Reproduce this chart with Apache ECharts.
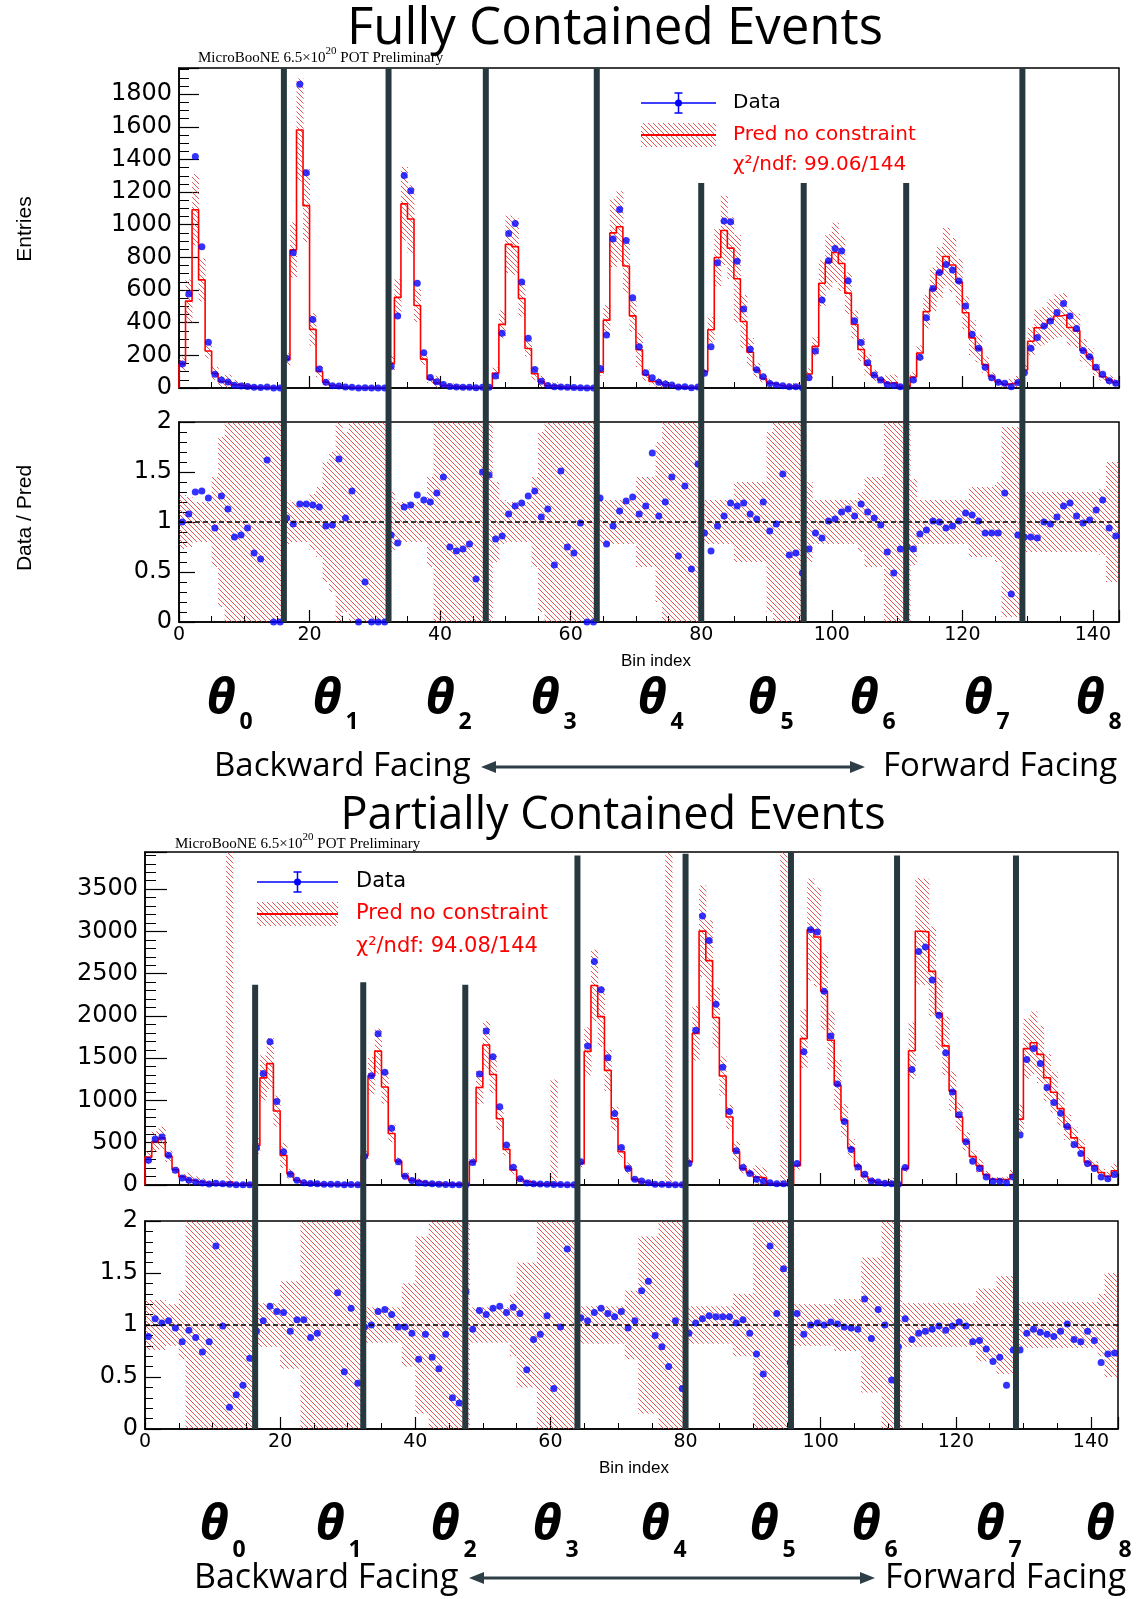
<!DOCTYPE html>
<html><head><meta charset="utf-8">
<script src="https://cdn.jsdelivr.net/npm/echarts@6/dist/echarts.min.js"></script>
<style>html,body{margin:0;padding:0;background:#fff}#c{width:1136px;height:1599px}</style>
</head><body><div id="c"></div>
<script>
// ---------------- DATA ----------------
const binCount = 144;
const xTickLabels = [0, 20, 40, 60, 80, 100, 120, 140];
const thetaLabels = ['0','1','2','3','4','5','6','7','8'];

// Fully contained
const fcData = [
 147,575,1418,865,280,84,49,37,17,12,9,5,3,6,0,0,
 182,829,1861,1318,420,116,35,14,13,6,4,0,1,0,0,0,
 131,441,1302,1208,641,216,65,39,22,9,6,5,4,2,5,4,
 73,335,947,1008,649,304,114,41,16,8,6,4,3,2,0,0,
 120,325,912,1094,904,553,253,94,63,35,24,18,6,8,2,6,
 90,253,767,1023,1018,776,484,237,112,69,27,18,14,8,8,2,
 63,227,539,780,855,839,657,412,278,155,80,49,22,16,8,5,
 49,188,431,610,708,757,723,655,502,329,243,127,63,35,29,8,
 33,94,243,310,380,410,463,518,441,365,229,192,127,84,45,29];
const fcPred = [
 147,532,1092,662,227,89,40,33,20,14,10,7,5,4,3,2,
 175,846,1580,1117,359,101,36,15,8,6,3,3,2.5,2,1.5,1,
 151,555,1128,1035,505,177,54,30,15,12,9,7,5,4,3,2.5,
 90,390,880,866,548,242,87,39,14,14,4,5,4,2,1.5,1,
 97,416,950,988,747,442,234,81,40,33,20,12,9,6,4,4,
 101,357,799,965,857,669,407,219,109,58,30,18,10,12,12,4,
 86,255,642,772,830,763,581,389,236,141,77,50,31,33,11,7,
 67,214,468,604,708,805,753,649,461,307,241,143,71,39,22,29,
 38,110,286,369,380,418,441,447,371,350,231,188,113,69,48,34];
const fcRatio = [
 1.00,1.08,1.30,1.31,1.24,0.94,1.26,1.13,0.85,0.87,0.94,0.69,0.63,1.62,0,0,
 1.04,0.98,1.18,1.18,1.17,1.15,0.96,0.97,1.63,1.04,1.31,0,0.40,0,0,0,
 0.87,0.79,1.15,1.17,1.27,1.22,1.20,1.29,1.45,0.75,0.71,0.73,0.78,0.43,1.50,1.47,
 0.83,0.86,1.08,1.16,1.19,1.26,1.31,1.05,1.13,0.57,1.51,0.75,0.69,0.99,0,0,
 1.24,0.78,0.96,1.11,1.21,1.25,1.08,1.16,1.69,1.06,1.20,1.45,0.66,1.36,0.53,1.58,
 0.89,0.71,0.96,1.06,1.19,1.16,1.19,1.08,1.03,1.20,0.91,0.98,1.48,0.67,0.69,0.49,
 0.73,0.89,0.84,1.01,1.03,1.10,1.13,1.06,1.18,1.10,1.04,0.97,0.70,0.49,0.73,0.75,
 0.73,0.88,0.92,1.01,1.00,0.94,0.96,1.01,1.09,1.07,1.01,0.89,0.89,0.89,1.29,0.28,
 0.87,0.85,0.85,0.84,1.00,0.98,1.05,1.16,1.19,1.06,0.99,1.02,1.12,1.22,0.94,0.86];
// relative prediction uncertainty (half width of the ratio band)
const fcErr = [
 0.27,0.25,0.2,0.2,0.2,0.45,0.85,1.5,1.5,1.5,1.5,1.5,1.5,1.5,1.5,1.5,
 0.22,0.2,0.2,0.2,0.28,0.35,0.6,0.7,1.2,0.9,1.5,1.5,1.5,1.5,1.5,1.5,
 0.3,0.2,0.2,0.2,0.2,0.2,0.45,1.5,1.5,1.5,1.5,1.5,1.5,1.5,1.5,1.5,
 0.4,0.22,0.2,0.2,0.2,0.2,0.45,0.9,1.5,1.5,1.5,1.5,1.5,1.5,1.5,1.5,
 0.22,0.22,0.22,0.22,0.22,0.22,0.45,0.45,0.45,0.8,1.5,1.5,1.5,1.5,1.5,1.5,
 0.22,0.22,0.22,0.22,0.22,0.4,0.4,0.4,0.4,0.4,0.9,1.0,1.5,1.5,1.5,1.5,
 0.4,0.22,0.22,0.22,0.22,0.22,0.22,0.22,0.3,0.45,0.45,0.45,1.5,1.5,1.5,1.5,
 0.43,0.22,0.22,0.22,0.22,0.22,0.22,0.22,0.22,0.35,0.35,0.35,0.35,0.4,0.95,0.95,
 0.95,0.3,0.3,0.3,0.3,0.3,0.3,0.3,0.3,0.3,0.3,0.3,0.3,0.33,0.6,0.6];
const fcChi = 'χ²/ndf: 99.06/144';
const fcSepX = [16.07, 32.1, 47.0, 64.0, 80.0, 95.7, 111.4, 129.2];
const fcSepTop = [1960, 1960, 1960, 1960, 1255, 1255, 1255, 1960];

// Partially contained
const pcData = [
 294,544,568,353,175,83,56,36,24,12,20,16,8,4,4,4,
 441,1318,1695,989,393,127,56,28,18,14,10,8,9,3,6,2,
 341,1294,1790,1334,671,274,103,52,28,20,14,10,7,4,3,3,
 266,1314,1822,1517,925,472,210,75,24,16,12,10,5,5,4,3,
 274,1644,2644,2311,1505,846,445,195,67,48,28,8,8,4,4,2,
 254,1830,3184,2894,2140,1393,869,405,206,135,67,44,28,16,16,8,
 254,1576,3021,2993,2291,1763,1195,750,421,214,127,48,36,20,16,8,
 206,1366,2763,2815,2426,2009,1564,1100,830,512,282,195,95,44,44,28,
 95,592,1485,1616,1437,1155,977,850,691,480,373,254,195,95,75,123];
const pcPred = [
 330,513,557,340,180,99,59,41,32,14,11,16,38,12,10,6,
 469,1267,1436,875,351,135,53,27,20,15,11,9,7,6,5,4,
 348,1294,1584,1160,610,280,105,57,42,22,20,17,8,13,12,2.3,
 277,1153,1656,1308,784,421,179,68,42,19,13,9,13,5,2.3,3,
 256,1581,2361,1992,1356,783,394,201,64,36,20,9,10,7,4,5,
 276,1794,3004,2655,1981,1290,805,397,196,147,93,83,16,14,10,13,
 229,1732,3021,2934,2291,1712,1183,765,434,223,102,55,31,20,34,10,
 194,1588,3003,2995,2527,2029,1646,1111,806,517,336,229,123,68,64,67,
 125,779,1614,1683,1545,1269,1098,904,684,558,444,270,229,148,104,168];
const pcRatio = [
 0.89,1.06,1.02,1.04,0.97,0.84,0.95,0.88,0.74,0.84,1.76,0.99,0.21,0.33,0.42,0.68,
 0.94,1.04,1.18,1.13,1.12,0.94,1.05,1.05,0.88,0.92,null,null,1.31,0.55,1.16,0.44,
 0.98,1.00,1.13,1.15,1.10,0.98,0.98,0.92,0.67,0.91,0.69,0.58,0.91,0.30,0.25,1.32,
 0.96,1.14,1.10,1.16,1.18,1.12,1.17,1.11,0.57,0.86,0.91,1.09,0.39,0.98,1.73,null,
 1.07,1.04,1.12,1.16,1.11,1.08,1.13,0.97,1.04,1.33,1.42,0.90,0.79,0.60,1.04,0.39,
 0.92,1.02,1.06,1.09,1.08,1.08,1.08,1.02,1.05,0.92,0.72,0.53,1.76,1.11,1.54,0.64,
 1.11,0.91,1.00,1.02,1.00,1.03,1.01,0.98,0.97,0.96,1.25,0.87,1.15,1.00,0.47,0.79,
 1.06,0.86,0.92,0.94,0.96,0.99,0.95,0.99,1.03,0.99,0.84,0.85,0.77,0.65,0.69,0.42,
 0.76,0.76,0.92,0.96,0.93,0.91,0.89,0.94,1.01,0.86,0.84,0.94,0.85,0.64,0.72,0.73];
const pcErr = [
 0.24,0.24,0.24,0.2,0.2,0.33,1.5,1.5,1.5,1.5,1.5,1.5,110,1.5,1.5,1.5,
 0.21,0.21,0.21,0.21,0.42,0.42,0.42,1.5,1.5,1.5,1.5,1.5,1.5,1.5,1.5,1.5,
 0.17,0.17,0.17,0.17,0.17,0.17,0.4,0.4,0.85,0.85,1.5,1.5,1.5,1.5,1.5,1.5,
 0.17,0.17,0.17,0.17,0.17,0.17,0.3,0.6,0.6,0.6,1.5,1.5,95,1.5,1.5,1.5,
 0.18,0.18,0.18,0.18,0.18,0.18,0.18,0.33,0.33,0.85,0.85,0.85,1.5,700,1.5,1.5,
 0.18,0.18,0.18,0.18,0.18,0.18,0.18,0.3,0.3,0.3,1.5,1.5,1.5,1.5,500,1.5,
 0.2,0.2,0.2,0.2,0.2,0.2,0.25,0.25,0.25,0.25,0.65,0.65,0.65,1.5,1.5,1.5,
 0.21,0.21,0.21,0.21,0.21,0.21,0.21,0.21,0.21,0.21,0.21,0.35,0.35,0.35,0.47,0.47,
 0.47,0.22,0.22,0.22,0.22,0.22,0.22,0.22,0.22,0.22,0.22,0.22,0.22,0.3,0.5,0.5];
const pcChi = 'χ²/ndf: 94.08/144';
const pcSepX = [16.3, 32.3, 47.4, 64.0, 80.0, 95.6, 111.3, 128.9];
const pcSepTop = [2370, 2400, 2370, 3900, 3920, 3940, 3900, 3900];

// ---------------- BUILD ----------------
const FC_YMAX = 1960, PC_YMAX = 3940;
const bins = Array.from({length: binCount}, (_, i) => i);

function makeHatch() {
  const T = 5, c = document.createElement('canvas');
  c.width = T; c.height = T;
  const g = c.getContext('2d');
  g.strokeStyle = 'rgba(222,48,48,0.8)'; g.lineWidth = 1;
  g.beginPath();
  for (let k = -1; k <= 1; k++) { g.moveTo(k * T, 0); g.lineTo(k * T + T, T); }
  g.stroke();
  return c;
}
const HATCH = {image: makeHatch(), repeat: 'repeat'};

const mainBand = (pred, err, ymax) => bins.map(i => [i, Math.max(0, pred[i] * (1 - err[i])), Math.min(ymax, pred[i] * (1 + err[i]))]);
const ratioBand = err => bins.map(i => [i, Math.max(0, 1 - err[i]), Math.min(2, 1 + err[i])]);
const stepData = pred => [[0, 0]].concat(bins.map(i => [i, pred[i]]), [[binCount, pred[binCount - 1]]]);
const pts = arr => bins.filter(i => arr[i] !== null).map(i => [i + 0.5, arr[i]]);

function bandSeries(gi, band) {
  return {
    type: 'custom', xAxisIndex: gi, yAxisIndex: gi, data: band, silent: true, z: 1,
    encode: {x: 0, y: [1, 2]},
    renderItem(params, api) {
      const i = api.value(0), lo = api.value(1), hi = api.value(2);
      if (!(hi > lo)) return;
      const a = api.coord([i, hi]), b = api.coord([i + 1, lo]);
      return {type: 'rect', shape: {x: a[0], y: a[1], width: b[0] - a[0] + 0.5, height: b[1] - a[1]},
              style: {fill: HATCH, stroke: null}};
    }
  };
}
function stepSeries(gi, pred) {
  return {type: 'line', xAxisIndex: gi, yAxisIndex: gi, step: 'end', data: stepData(pred),
          symbol: 'none', showSymbol: false, z: 3, silent: true,
          lineStyle: {color: '#ff0000', width: 1.6}};
}
function dotSeries(gi, arr, withLine) {
  const s = {type: 'scatter', xAxisIndex: gi, yAxisIndex: gi, data: pts(arr), symbol: 'circle',
             symbolSize: 7, itemStyle: {color: '#0000ff'}, z: 4, clip: false, silent: true};
  if (withLine) s.markLine = {silent: true, symbol: 'none', label: {show: false},
      lineStyle: {color: '#000', type: [5, 3], width: 1.5}, data: [{yAxis: 1}], animation: false};
  return s;
}
function xAx(gi, labels) {
  return {type: 'value', gridIndex: gi, min: 0, max: binCount, interval: 20,
    axisLine: {show: true, lineStyle: {color: '#000', width: 1.5}},
    axisTick: {show: true, inside: true, length: 12, lineStyle: {color: '#000', width: 1.2}},
    minorTick: {show: true, splitNumber: 4, length: 6, lineStyle: {color: '#000', width: 1}},
    splitLine: {show: false},
    axisLabel: {show: labels, fontFamily: 'DejaVu Sans', fontSize: 19, color: '#000', margin: 4,
                showMaxLabel: false, formatter: v => xTickLabels.includes(v) ? String(v) : ''}};
}
function yAx(gi, max, interval, split, tickLen, fs) {
  return {type: 'value', gridIndex: gi, min: 0, max: max, interval: interval,
    axisLine: {show: true, lineStyle: {color: '#000', width: 1.5}},
    axisTick: {show: true, inside: true, length: tickLen, lineStyle: {color: '#000', width: 1.2}},
    minorTick: {show: true, splitNumber: split, length: Math.round(tickLen / 2), lineStyle: {color: '#000', width: 1}},
    splitLine: {show: false},
    axisLabel: {fontFamily: 'DejaVu Sans', fontSize: fs, color: '#000', margin: 7,
                showMaxLabel: max === 2, formatter: v => (Math.abs(v / interval - Math.round(v / interval)) < 1e-6) ? String(v) : ''}};
}
const gridBase = {show: true, borderColor: '#000', borderWidth: 1.5, backgroundColor: 'transparent', containLabel: false};

const option = {
  animation: false,
  backgroundColor: '#ffffff',
  grid: [
    Object.assign({left: 179, top: 68, width: 940, height: 320}, gridBase),
    Object.assign({left: 179, top: 422, width: 940, height: 200}, gridBase),
    Object.assign({left: 145, top: 852, width: 973, height: 333}, gridBase),
    Object.assign({left: 145, top: 1221, width: 973, height: 208}, gridBase)
  ],
  xAxis: [xAx(0, false), xAx(1, true), xAx(2, false), xAx(3, true)],
  yAxis: [yAx(0, FC_YMAX, 200, 4, 20, 24), yAx(1, 2, 0.5, 5, 16, 24),
          yAx(2, PC_YMAX, 500, 5, 22, 24), yAx(3, 2, 0.5, 5, 16, 24)],
  series: [
    bandSeries(0, mainBand(fcPred, fcErr, FC_YMAX)), stepSeries(0, fcPred), dotSeries(0, fcData, false),
    bandSeries(1, ratioBand(fcErr)), dotSeries(1, fcRatio, true),
    bandSeries(2, mainBand(pcPred, pcErr, PC_YMAX)), stepSeries(2, pcPred), dotSeries(2, pcData, false),
    bandSeries(3, ratioBand(pcErr)), dotSeries(3, pcRatio, true)
  ]
};

const chart = echarts.init(document.getElementById('c'), null, {renderer: 'canvas', width: 1136, height: 1599});
chart.setOption(option);

// ---------------- annotations ----------------
const G = [];
const px = (gi, x, y) => chart.convertToPixel({gridIndex: gi}, [x, y]);
function txt(x, y, text, font, fill, align, extra) {
  return Object.assign({type: 'text', x: x, y: y, z: 50, silent: true,
    style: {text: text, font: font, fill: fill || '#000', textAlign: align || 'left', textVerticalAlign: 'middle',
            align: align || 'left', verticalAlign: 'middle'}}, extra || {});
}
const SEP = '#27393f';
function separators(gMain, gRatio, xs, tops) {
  xs.forEach((x, k) => {
    const a = px(gMain, x, tops[k]), b = px(gRatio, x, 0);
    G.push({type: 'line', z: 60, silent: true, shape: {x1: a[0], y1: a[1], x2: b[0], y2: b[1]},
            style: {stroke: SEP, lineWidth: 6}});
  });
}
separators(0, 1, fcSepX, fcSepTop);
separators(2, 3, pcSepX, pcSepTop);

// titles
G.push(txt(615, 29, 'Fully Contained Events', '51px "Open Sans"', '#000', 'center'));
G.push(txt(613, 816, 'Partially Contained Events', '45px "Open Sans"', '#000', 'center'));

// MicroBooNE tag
function tag(x, y) {
  G.push({type: 'text', x: x, y: y, z: 50, silent: true, style: {
    text: '{a|MicroBooNE 6.5×10}{s|20}{a| POT Preliminary}', textVerticalAlign: 'middle', verticalAlign: 'middle',
    rich: {a: {fontFamily: 'Liberation Serif', fontSize: 15, fill: '#000', color: '#000', lineHeight: 20, verticalAlign: 'bottom'},
           s: {fontFamily: 'Liberation Serif', fontSize: 11, fill: '#000', color: '#000', lineHeight: 20, verticalAlign: 'top'}}}});
}
tag(198, 56);
tag(175, 842);

// legends
function legend(x0, x1, yData, yPred, yChi, xt, chi, fs) {
  const xm = (x0 + x1) / 2, f = fs + 'px "DejaVu Sans"';
  G.push({type: 'line', z: 50, silent: true, shape: {x1: x0, y1: yData, x2: x1, y2: yData}, style: {stroke: '#0000ff', lineWidth: 1.5}});
  G.push({type: 'line', z: 50, silent: true, shape: {x1: xm, y1: yData - 10, x2: xm, y2: yData + 10}, style: {stroke: '#0000ff', lineWidth: 1.5}});
  G.push({type: 'line', z: 50, silent: true, shape: {x1: xm - 4, y1: yData - 10, x2: xm + 4, y2: yData - 10}, style: {stroke: '#0000ff', lineWidth: 1.5}});
  G.push({type: 'line', z: 50, silent: true, shape: {x1: xm - 4, y1: yData + 10, x2: xm + 4, y2: yData + 10}, style: {stroke: '#0000ff', lineWidth: 1.5}});
  G.push({type: 'circle', z: 51, silent: true, shape: {cx: xm, cy: yData, r: 3.5}, style: {fill: '#0000ff'}});
  G.push({type: 'rect', z: 50, silent: true, shape: {x: x0, y: yPred - 12, width: x1 - x0, height: 24}, style: {fill: HATCH}});
  G.push({type: 'line', z: 51, silent: true, shape: {x1: x0, y1: yPred, x2: x1, y2: yPred}, style: {stroke: '#ff0000', lineWidth: 2}});
  G.push(txt(xt, yData, 'Data', f, '#000'));
  G.push(txt(xt, yPred, 'Pred no constraint', f, '#ff0000'));
  G.push(txt(xt, yChi, chi, f, '#ff0000'));
}
legend(641, 716, 103, 135, 165, 733, fcChi, 20);
legend(257, 338, 882, 914, 947, 356, pcChi, 21);

// axis titles
G.push(txt(25, 229, 'Entries', '21px "Liberation Sans"', '#000', 'center', {rotation: Math.PI / 2}));
G.push(txt(25, 518, 'Data / Pred', '21px "Liberation Sans"', '#000', 'center', {rotation: Math.PI / 2}));
G.push(txt(656, 661, 'Bin index', '17px "Liberation Sans"', '#000', 'center'));
G.push(txt(634, 1468, 'Bin index', '17px "Liberation Sans"', '#000', 'center'));

// theta labels
function thetas(xs, y, dy) {
  xs.forEach((x, k) => {
    G.push(txt(x, y, 'θ', 'italic bold 50px "Noto Sans"', '#000', 'center'));
    G.push(txt(x + 25, y + dy, thetaLabels[k], 'bold 23px "Open Sans"', '#000', 'center'));
  });
}
thetas([221, 327, 440, 545, 652, 762, 864, 978, 1090], 700, 22);
thetas([214, 330, 445, 547, 655, 764, 866, 990, 1100], 1526, 24);

// facing arrows
function facing(xb, y, xa0, xa1, xf, fs) {
  G.push(txt(xb, y, 'Backward Facing', fs + 'px "Open Sans"', '#000', 'left'));
  G.push(txt(xf, y, 'Forward Facing', fs + 'px "Open Sans"', '#000', 'left'));
  G.push({type: 'line', z: 50, silent: true, shape: {x1: xa0 + 10, y1: y, x2: xa1 - 10, y2: y}, style: {stroke: '#2d3e46', lineWidth: 3}});
  G.push({type: 'polygon', z: 50, silent: true, shape: {points: [[xa0, y], [xa0 + 15, y - 6], [xa0 + 15, y + 6]]}, style: {fill: '#2d3e46'}});
  G.push({type: 'polygon', z: 50, silent: true, shape: {points: [[xa1, y], [xa1 - 15, y - 6], [xa1 - 15, y + 6]]}, style: {fill: '#2d3e46'}});
}
facing(214, 767, 481, 865, 883, 33);
facing(194, 1578, 469, 875, 885, 34);

chart.setOption({graphic: {elements: G}});
</script>
</body></html>
